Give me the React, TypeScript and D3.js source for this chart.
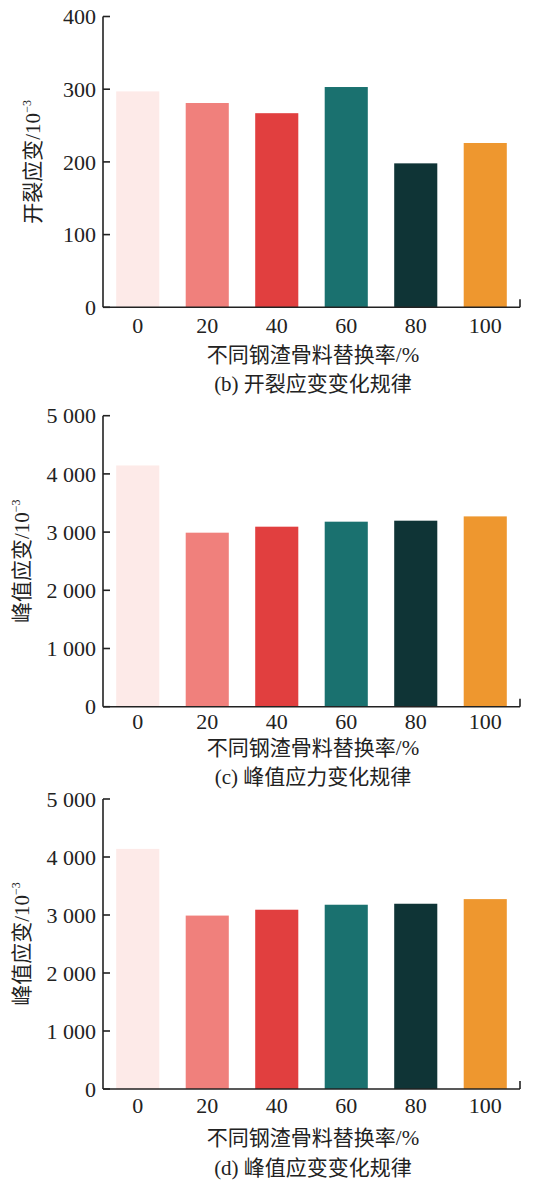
import React from "react";
import * as d3 from "d3";

const categories = ["0", "20", "40", "60", "80", "100"];
const crackStrain = [297, 281, 267, 303, 198, 226];
const peakStressPanel = [4145, 2990, 3093, 3179, 3196, 3270];
const peakStrainPanel = [4140, 2990, 3091, 3177, 3194, 3274];
const barColors = ["#fdeae8", "#f0807c", "#e13f3f", "#1a716f", "#0f3436", "#ee972f"];
const ticksSmall = [0, 100, 200, 300, 400];
const ticksLarge = [0, 1000, 2000, 3000, 4000, 5000];
const xTitle = "不同钢渣骨料替换率/%";
const yTitles = ["开裂应变/10", "峰值应变/10", "峰值应变/10"];
const captions = ["(b) 开裂应变变化规律", "(c) 峰值应力变化规律", "(d) 峰值应变变化规律"];

const FONT = "'Liberation Serif', 'Noto Sans CJK SC', serif";
const fmt = (v: number) => (v >= 1000 ? d3.format(",")(v).replace(/,/g, " ") : String(v));

type Layout = { top: number; bottom: number; labelY: number; titleY: number; captionY: number; yTitleX: number };

const panels: { values: number[]; ticks: number[]; max: number; layout: Layout }[] = [
  { values: crackStrain, ticks: ticksSmall, max: 400, layout: { top: 16.5, bottom: 307.3, labelY: 333, titleY: 362, captionY: 391, yTitleX: 40 } },
  { values: peakStressPanel, ticks: ticksLarge, max: 5000, layout: { top: 415.7, bottom: 706.7, labelY: 729, titleY: 755, captionY: 784, yTitleX: 29 } },
  { values: peakStrainPanel, ticks: ticksLarge, max: 5000, layout: { top: 799, bottom: 1089, labelY: 1113, titleY: 1145, captionY: 1175, yTitleX: 29 } },
];

const X0 = 103;
const X1 = 520;
const NUM = 22;
const CJK = 21;

function Panel({ idx }: { idx: number }) {
  const p = panels[idx];
  const L = p.layout;
  const x = d3.scaleBand<string>().domain(categories).range([X0, X1]).paddingInner(0.38).paddingOuter(0.19);
  const y = d3.scaleLinear().domain([0, p.max]).range([L.bottom, L.top]);
  const cy = (L.top + L.bottom) / 2;
  return (
    <g>
      {p.values.map((v, i) => (
        <rect key={i} x={x(categories[i])} y={y(v)} width={x.bandwidth()} height={y(0) - y(v)} fill={barColors[i]} />
      ))}
      <line x1={X0} x2={X0} y1={y(p.max)} y2={y(0)} stroke="#222" strokeWidth={1.6} />
      <line x1={X0} x2={X1} y1={y(0)} y2={y(0)} stroke="#222" strokeWidth={1.6} />
      <line x1={X1} x2={X1} y1={y(0)} y2={y(0) - 8} stroke="#222" strokeWidth={1.6} />
      {p.ticks.map((t) => (
        <g key={t}>
          <line x1={X0} x2={X0 + 7} y1={y(t)} y2={y(t)} stroke="#222" strokeWidth={1.6} />
          <text x={X0 - 7} y={y(t)} dy="0.35em" textAnchor="end" fontSize={NUM} fill="#222" fontFamily={FONT}>
            {fmt(t)}
          </text>
        </g>
      ))}
      {categories.map((c) => (
        <text key={c} x={(x(c) as number) + x.bandwidth() / 2} y={L.labelY} textAnchor="middle" fontSize={NUM} fill="#222" fontFamily={FONT}>
          {c}
        </text>
      ))}
      <text x={313} y={L.titleY} textAnchor="middle" fontSize={CJK} fill="#222" fontFamily={FONT}>
        {xTitle}
      </text>
      <text x={313} y={L.captionY} textAnchor="middle" fontSize={CJK} fill="#222" fontFamily={FONT}>
        {captions[idx]}
      </text>
      <text transform={`translate(${L.yTitleX},${cy}) rotate(-90)`} textAnchor="middle" fontSize={CJK} fill="#222" fontFamily={FONT}>
        {yTitles[idx]}
        <tspan dy={-9} fontSize={12}>−3</tspan>
      </text>
    </g>
  );
}

export default function App() {
  return (
    <svg width={534} height={1183} style={{ position: "absolute", left: 0, top: 0, background: "#fff" }}>
      <rect width={534} height={1183} fill="#fff" />
      {panels.map((_, i) => (
        <Panel key={i} idx={i} />
      ))}
    </svg>
  );
}
